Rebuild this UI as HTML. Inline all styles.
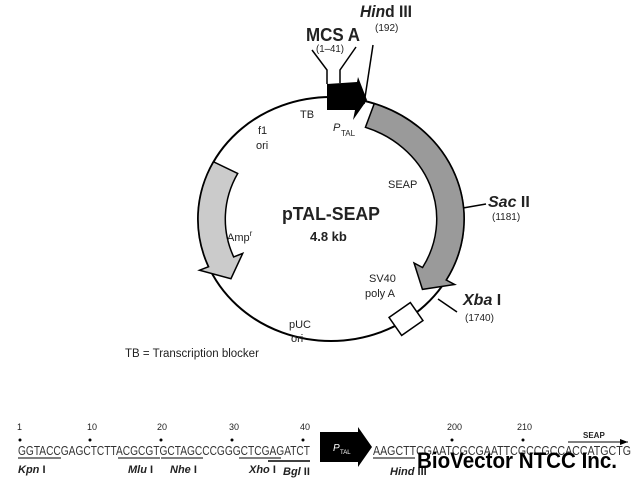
<!DOCTYPE html>
<html><head><meta charset="utf-8"><style>
html,body{margin:0;padding:0;background:#fff;}
svg{display:block;font-family:"Liberation Sans",sans-serif;}
</style></head><body>
<svg width="633" height="490" viewBox="0 0 633 490" xmlns="http://www.w3.org/2000/svg">
<g transform="translate(331,219) scale(1.09,1)">
 <circle cx="0" cy="0" r="122" fill="none" stroke="#000" stroke-width="2" vector-effect="non-scaling-stroke"/>
 <path d="M 39.7 -115.4 A 122 122 0 0 1 105.7 61 L 113.4 65.5 L 83.9 70.4 L 76.2 44 L 84 48.5 A 97 97 0 0 0 31.6 -91.7 Z" fill="#9a9a9a" stroke="#000" stroke-width="1.5" vector-effect="non-scaling-stroke"/>
 <path d="M -107.7 -57.2 A 122 122 0 0 0 -112.3 47.7 L -120.6 51.2 L -91.8 59.7 L -81 34.4 L -89.3 37.9 A 97 97 0 0 1 -85.6 -45.5 Z" fill="#cbcbcb" stroke="#000" stroke-width="1.5" vector-effect="non-scaling-stroke"/>
</g>
<polygon points="327,84 357,82 358,77 367,100 353,120 355,110 327,110" fill="#000"/>
<polyline points="312,50 327,70 327,84" fill="none" stroke="#000" stroke-width="1.5"/>
<polyline points="356,47 340,70 340,83" fill="none" stroke="#000" stroke-width="1.5"/>
<line x1="373" y1="45" x2="364" y2="104" stroke="#000" stroke-width="1.5"/>
<line x1="463" y1="208" x2="486" y2="204" stroke="#000" stroke-width="1.5"/>
<line x1="438" y1="299" x2="457" y2="312" stroke="#000" stroke-width="1.5"/>
<rect x="393" y="308" width="26" height="22" fill="#fff" stroke="#000" stroke-width="1.5" transform="rotate(-35 406 319)"/>

<g font-size="11" fill="#222">
<text x="306" y="41" font-size="18" font-weight="bold" textLength="54" lengthAdjust="spacingAndGlyphs">MCS A</text>
<text x="316" y="52" font-size="10" textLength="28" lengthAdjust="spacingAndGlyphs">(1–41)</text>
<text x="360" y="17" font-size="17" font-weight="bold" textLength="52" lengthAdjust="spacingAndGlyphs"><tspan font-style="italic">Hin</tspan>d III</text>
<text x="375" y="31" font-size="10">(192)</text>
<text x="300" y="118">TB</text>
<text x="258" y="134">f1</text>
<text x="256" y="149">ori</text>
<text x="333" y="131" font-style="italic">P</text><text x="341" y="136" font-size="8">TAL</text>
<text x="388" y="188">SEAP</text>
<text x="282" y="220" font-size="18" font-weight="bold" textLength="98" lengthAdjust="spacingAndGlyphs">pTAL-SEAP</text>
<text x="310" y="241" font-size="13" font-weight="bold">4.8 kb</text>
<text x="227" y="241">Amp<tspan font-size="8" dy="-5">r</tspan></text>
<text x="369" y="282">SV40</text>
<text x="365" y="297">poly A</text>
<text x="289" y="328">pUC</text>
<text x="291" y="342">ori</text>
<text x="488" y="207" font-size="16" font-weight="bold"><tspan font-style="italic">Sac</tspan> II</text>
<text x="492" y="220" font-size="10">(1181)</text>
<text x="463" y="305" font-size="16" font-weight="bold"><tspan font-style="italic">Xba</tspan> I</text>
<text x="465" y="321" font-size="10">(1740)</text>
<text x="125" y="357" font-size="11.5">TB  = Transcription blocker</text>
</g>

<g font-size="9" fill="#222">
<text x="17" y="430">1</text><text x="87" y="430">10</text><text x="157" y="430">20</text>
<text x="229" y="430">30</text><text x="300" y="430">40</text>
<text x="447" y="430">200</text><text x="517" y="430">210</text>
</g>
<g fill="#000">
<circle cx="20" cy="440" r="1.5"/><circle cx="90" cy="440" r="1.5"/><circle cx="161" cy="440" r="1.5"/>
<circle cx="232" cy="440" r="1.5"/><circle cx="303" cy="440" r="1.5"/><circle cx="452" cy="440" r="1.5"/><circle cx="523" cy="440" r="1.5"/>
</g>
<text x="18" y="455" font-size="13" fill="#333" textLength="292" lengthAdjust="spacingAndGlyphs">GGTACCGAGCTCTTACGCGTGCTAGCCCGGGCTCGAGATCT</text>
<text x="373" y="455" font-size="13" fill="#333" textLength="258" lengthAdjust="spacingAndGlyphs">AAGCTTCGAATCGCGAATTCGCCGCCACCATGCTG</text>
<g stroke="#000" stroke-width="1">
<line x1="18" y1="458" x2="61" y2="458"/><line x1="118" y1="458" x2="160" y2="458"/>
<line x1="161" y1="458" x2="203" y2="458"/><line x1="239" y1="458" x2="281" y2="458"/>
<line x1="268" y1="461" x2="310" y2="461" stroke-width="1.5"/><line x1="373" y1="458" x2="415" y2="458"/>
<line x1="568" y1="442" x2="628" y2="442"/>
</g>
<polygon points="628,442 620,439 620,445" fill="#000"/>
<text x="583" y="438" font-size="8" font-weight="bold" fill="#222">SEAP</text>
<polygon points="320,432 358,432 358,427 372,447 358,467 358,462 320,462" fill="#000"/>
<text x="333" y="451" font-size="10" fill="#fff" font-style="italic">P</text><text x="340" y="454" font-size="6" fill="#fff">TAL</text>
<g font-size="11" font-weight="bold" fill="#222">
<text x="18" y="473"><tspan font-style="italic">Kpn</tspan> I</text>
<text x="128" y="473"><tspan font-style="italic">Mlu</tspan> I</text>
<text x="170" y="473"><tspan font-style="italic">Nhe</tspan> I</text>
<text x="249" y="473"><tspan font-style="italic">Xho</tspan> I</text>
<text x="283" y="475"><tspan font-style="italic">Bgl</tspan> II</text>
<text x="390" y="475"><tspan font-style="italic">Hind</tspan> III</text>
</g>
<text x="417" y="468" font-size="22" font-weight="bold" fill="#000" textLength="200" lengthAdjust="spacingAndGlyphs">BioVector NTCC Inc.</text>
</svg>
</body></html>
